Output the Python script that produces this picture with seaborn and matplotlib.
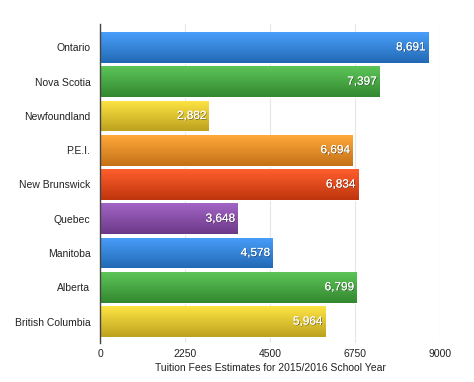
import numpy as np
import pandas as pd
import seaborn as sns
import matplotlib.pyplot as plt
import matplotlib.patheffects as pe
from matplotlib.colors import to_rgb

provinces = ["Ontario", "Nova Scotia", "Newfoundland", "P.E.I.", "New Brunswick",
             "Quebec", "Manitoba", "Alberta", "British Columbia"]
fees = [8691, 7397, 2882, 6694, 6834, 3648, 4578, 6799, 5964]
bar_colors = ["#2a80dc", "#3ea63a", "#e6c625", "#ef8a1c", "#e8400f",
              "#8446a6", "#2a80dc", "#3ea63a", "#e6c625"]
x_ticks = [0, 2250, 4500, 6750, 9000]

df = pd.DataFrame({"province": provinces, "fee": fees})

sns.set_style("white")
plt.rcParams["font.family"] = ["Liberation Sans", "DejaVu Sans"]

fig = plt.figure(figsize=(4.74, 3.82), dpi=100)
ax = fig.add_axes([0.211, 0.102, 0.717, 0.835])

sns.barplot(data=df, x="fee", y="province", hue="province", palette=bar_colors,
            legend=False, width=0.9, ax=ax, saturation=1)

# soft vertical gradient on each bar
for patch, c in zip(ax.patches, bar_colors):
    x0, y0 = patch.get_x(), patch.get_y()
    w, h = patch.get_width(), patch.get_height()
    base = np.array(to_rgb(c))
    light = np.clip(base + 0.12, 0, 1)
    dark = base * 0.82
    t = np.linspace(0, 1, 64)[:, None]
    grad = (light * (1 - t) + dark * t)[:, None, :]
    im = ax.imshow(grad, extent=(x0, x0 + w, y0 + h, y0), aspect="auto",
                   zorder=patch.get_zorder() + 0.1, interpolation="bilinear")
    im.set_clip_path(patch)

for i, v in enumerate(fees):
    ax.text(v - 70, i, f"{v:,}", ha="right", va="center", color="white",
            fontsize=8.5, zorder=5,
            path_effects=[pe.withSimplePatchShadow(offset=(0.5, -0.5), shadow_rgbFace="#222222", alpha=0.6),
                          pe.Normal()])

ax.set_xlim(0, 9000)
ax.set_ylim(8.625, -0.68)
ax.set_xticks(x_ticks)
ax.set_xticklabels([str(t) for t in x_ticks])
ax.grid(axis="x", color="#e6e6e6", linewidth=0.8)
ax.set_axisbelow(True)
for s in ["top", "right", "bottom"]:
    ax.spines[s].set_visible(False)
ax.spines["left"].set_color("#444444")
ax.spines["left"].set_linewidth(1.0)
ax.tick_params(axis="both", length=0, labelsize=7.5, colors="#222222", pad=7)
ax.tick_params(axis="x", pad=4)
ax.set_ylabel("")
ax.set_xlabel("Tuition Fees Estimates for 2015/2016 School Year", fontsize=7.5,
              color="#222222", labelpad=3)

fig.savefig("out.png", dpi=100)
